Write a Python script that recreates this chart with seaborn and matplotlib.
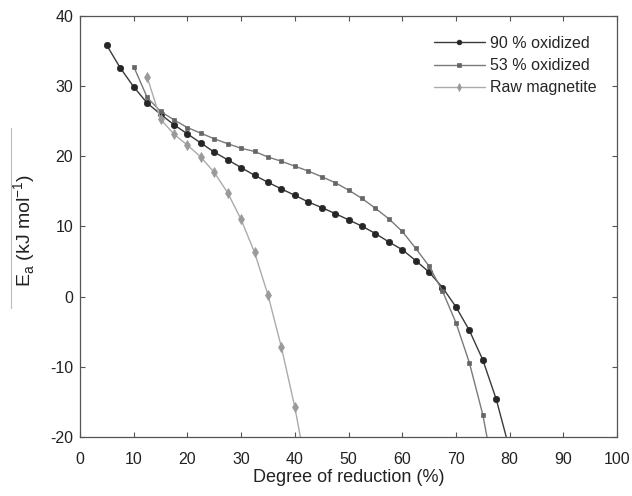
import matplotlib
matplotlib.use("Agg")
import matplotlib.pyplot as plt
from matplotlib.lines import Line2D
import seaborn as sns
import pandas as pd

# ---- data ----
x90 = [5, 7.5, 10, 12.5, 15, 17.5, 20, 22.5, 25, 27.5, 30, 32.5, 35, 37.5, 40,
       42.5, 45, 47.5, 50, 52.5, 55, 57.5, 60, 62.5, 65, 67.5, 70, 72.5, 75, 77.5, 80]
y90 = [35.8, 32.6, 29.9, 27.6, 26.0, 24.5, 23.2, 21.9, 20.6, 19.5, 18.4, 17.3, 16.3, 15.35, 14.45,
       13.5, 12.7, 11.85, 10.95, 10.05, 9.0, 7.8, 6.7, 5.15, 3.5, 1.3, -1.45, -4.8, -9.0, -14.6, -21.8]

x53 = [10, 12.5, 15, 17.5, 20, 22.5, 25, 27.5, 30, 32.5, 35, 37.5, 40, 42.5, 45,
       47.5, 50, 52.5, 55, 57.5, 60, 62.5, 65, 67.5, 70, 72.5, 75, 77.5]
y53 = [32.8, 28.4, 26.4, 25.2, 24.1, 23.3, 22.5, 21.8, 21.15, 20.7, 19.9, 19.3, 18.6, 17.9, 17.1,
       16.25, 15.2, 14.0, 12.6, 11.1, 9.3, 6.9, 4.35, 0.8, -3.7, -9.4, -16.8, -27.0]

xraw = [12.5, 15, 17.5, 20, 22.5, 25, 27.5, 30, 32.5, 35, 37.5, 40, 42.5]
yraw = [31.3, 25.3, 23.15, 21.6, 19.9, 17.7, 14.8, 11.0, 6.3, 0.25, -7.2, -15.75, -26.0]

series_names = ["90 % oxidized", "53 % oxidized", "Raw magnetite"]
x_ticks = [0, 10, 20, 30, 40, 50, 60, 70, 80, 90, 100]
y_ticks = [-20, -10, 0, 10, 20, 30, 40]

df = pd.concat([
    pd.DataFrame({"x": x90, "y": y90, "s": series_names[0]}),
    pd.DataFrame({"x": x53, "y": y53, "s": series_names[1]}),
    pd.DataFrame({"x": xraw, "y": yraw, "s": series_names[2]}),
], ignore_index=True)

sns.set_style("white")
plt.rcParams['font.family'] = ['Liberation Sans', 'DejaVu Sans']
plt.rcParams['mathtext.fontset'] = 'custom'
plt.rcParams['mathtext.rm'] = 'Liberation Sans'
plt.rcParams['axes.unicode_minus'] = False

fig = plt.figure(figsize=(6.32, 4.96), dpi=100)
ax = fig.add_axes([0.1266, 0.119, 0.8497, 0.8487])

styles = {
    series_names[0]: dict(color="#3a3a3a", marker="o", ms=4.6, mfc="#262626", mec="#262626"),
    series_names[1]: dict(color="#7a7a7a", marker="s", ms=3.0, mfc="#666666", mec="#666666"),
    series_names[2]: dict(color="#ababab", marker="d", ms=5.2, mfc="#9a9a9a", mec="#9a9a9a"),
}

for name in series_names:
    st = styles[name]
    sns.lineplot(data=df[df["s"] == name], x="x", y="y", ax=ax, sort=False,
                 color=st["color"], marker=st["marker"], markersize=st["ms"],
                 markerfacecolor=st["mfc"], markeredgecolor=st["mec"],
                 markeredgewidth=0.5, linewidth=1.0, label=name)

ax.set_xlim(0, 100)
ax.set_ylim(-20, 40)
ax.set_xticks(x_ticks)
ax.set_yticks(y_ticks)
ax.tick_params(direction="in", bottom=True, left=True, top=True, right=True,
               length=3.5, width=0.8, color="#555555", labelsize=11.5,
               labelcolor="#222222")
ax.tick_params(axis="x", pad=11)
ax.tick_params(axis="y", pad=5)
for sp in ax.spines.values():
    sp.set_color("#555555")
    sp.set_linewidth(0.9)

ax.set_xlabel("Degree of reduction (%)", fontsize=13, color="#222222", labelpad=1)
ax.set_ylabel(r"E$_\mathregular{a}$ (kJ mol$^\mathregular{-1}$)", fontsize=14, color="#222222")
ax.yaxis.set_label_coords(-0.078, 0.49)

leg = ax.legend(loc="upper right", frameon=False, fontsize=11.5, handlelength=3.2,
                handletextpad=0.35, labelspacing=0.45, borderaxespad=0.85,
                markerscale=0.75)

# faint vertical line at the left margin (present in the reference)
fig.add_artist(Line2D([11 / 632, 11 / 632], [1 - 128 / 496, 1 - 308 / 496],
                      transform=fig.transFigure, color="#bbbbbb", linewidth=0.8))

fig.savefig("out.png", dpi=100)
